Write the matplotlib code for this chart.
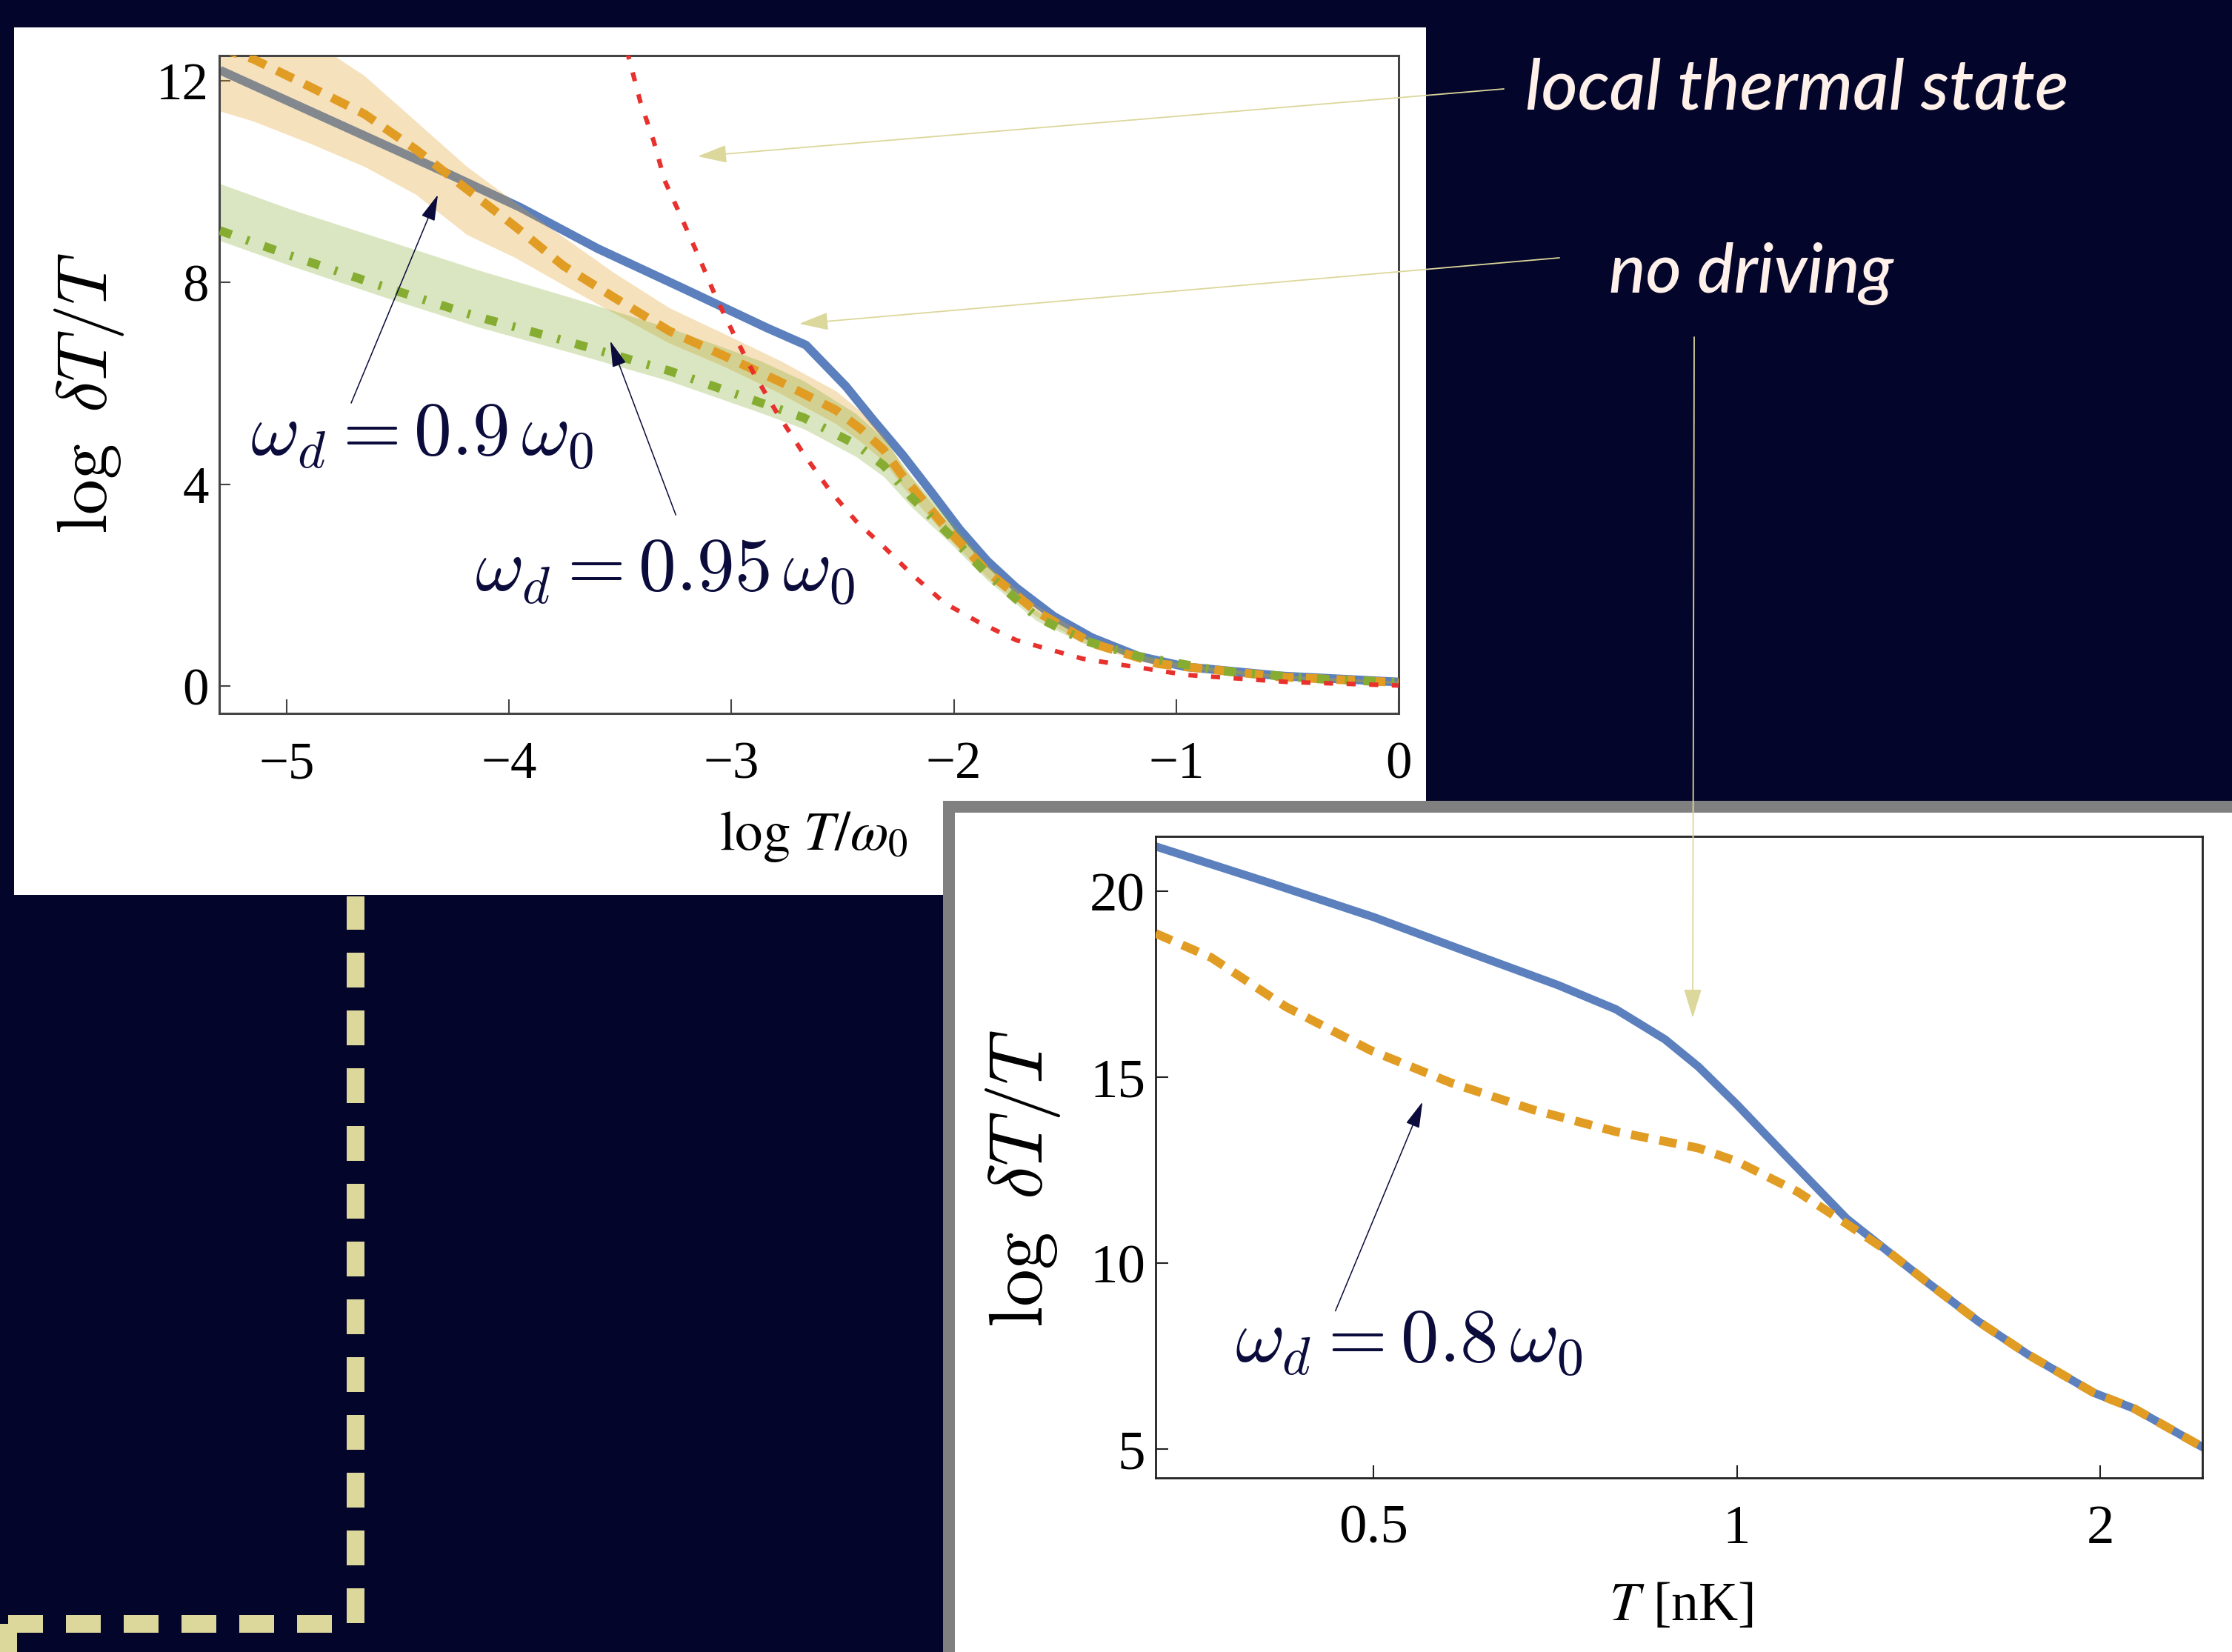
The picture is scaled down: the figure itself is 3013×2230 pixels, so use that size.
import matplotlib
matplotlib.use("Agg")
import matplotlib.pyplot as plt
from matplotlib.patches import Rectangle, FancyArrowPatch
from matplotlib.lines import Line2D
from matplotlib.ticker import NullLocator

plt.rcParams['font.family'] = ['Liberation Serif', 'DejaVu Serif']

# Canvas size and colours
W, H = 3013, 2230
BG = '#04052a'
BEIGE = '#dcd79b'
NAVY = '#0b0c3c'
TXT = '#fff1ea'
BLUE = '#5b80bd'
ORANGE = '#e19c24'
GREEN = '#86ad32'
RED = '#e8302c'

# Top panel: log dT/T vs log T/w0
x_blue = [-5.3, -4.29, -3.95, -3.6, -3.22, -2.84, -2.665, -2.485, -2.36, -2.23, -2.1,
          -1.975, -1.85, -1.72, -1.55, -1.38, -1.17, -0.955, -0.53, 0.0]
y_blue = [12.21, 10.19, 9.49, 8.67, 7.89, 7.10, 6.76, 5.94, 5.26, 4.58, 3.84,
          3.11, 2.48, 1.95, 1.38, 0.96, 0.59, 0.38, 0.20, 0.08]

x_orange = [-5.3, -5.15, -4.89, -4.65, -4.42, -4.19, -3.975, -3.755, -3.53, -3.28, -3.04,
            -2.78, -2.53, -2.42, -2.315, -2.23, -2.04, -1.85, -1.63, -1.38, -1.08, -0.53, 0.0]
y_orange = [12.65, 12.43, 11.87, 11.34, 10.64, 9.85, 9.12, 8.33, 7.71, 7.04, 6.56,
            6.03, 5.47, 5.10, 4.68, 4.16, 3.16, 2.27, 1.48, 0.85, 0.44, 0.18, 0.07]
orange_hi = [13.5, 13.3, 12.8, 12.1, 11.2, 10.3, 9.6, 8.9, 8.2, 7.5, 7.0,
             6.45, 5.85, 5.45, 4.95, 4.35, 3.3, 2.4, 1.6, 0.95, 0.5, 0.22, 0.1]
orange_lo = [11.4, 11.2, 10.75, 10.3, 9.75, 8.95, 8.5, 7.95, 7.4, 6.8, 6.35,
             5.8, 5.2, 4.85, 4.45, 3.95, 3.0, 2.15, 1.38, 0.78, 0.4, 0.15, 0.05]

x_green = [-5.3, -4.98, -4.56, -4.14, -3.72, -3.28, -2.87, -2.675, -2.44, -2.315, -2.19,
           -2.02, -1.85, -1.63, -1.42, -1.17, -0.8, -0.4, 0.0]
y_green = [9.03, 8.53, 7.91, 7.32, 6.81, 6.25, 5.62, 5.32, 4.79, 4.37, 3.74,
           3.00, 2.22, 1.38, 0.91, 0.59, 0.30, 0.15, 0.07]
green_hi = [9.96, 9.45, 8.85, 8.25, 7.7, 7.1, 6.45, 6.05, 5.4, 4.9, 4.15,
            3.3, 2.4, 1.5, 0.98, 0.63, 0.33, 0.17, 0.09]
green_lo = [8.83, 8.33, 7.71, 7.12, 6.61, 6.05, 5.42, 5.10, 4.55, 4.15, 3.55,
            2.85, 2.10, 1.30, 0.85, 0.55, 0.27, 0.13, 0.05]

x_red = [-3.47, -3.41, -3.35, -3.30, -3.22, -3.14, -3.07, -2.99, -2.90, -2.80, -2.675,
         -2.56, -2.44, -2.31, -2.19, -2.04, -1.89, -1.72, -1.42, -0.955, -0.5, 0.0]
y_red = [12.6, 11.59, 10.81, 10.02, 9.24, 8.44, 7.71, 6.98, 6.20, 5.45, 4.60,
         3.89, 3.27, 2.74, 2.22, 1.64, 1.27, 0.91, 0.54, 0.22, 0.08, 0.01]

ticks1_x = [-5, -4, -3, -2, -1, 0]
ticks1_y = [0, 4, 8, 12]

# Bottom panel: log dT/T vs T [nK]
T_blue = [0.33, 0.411, 0.5, 0.608, 0.711, 0.794, 0.872, 0.929, 1.0, 1.104, 1.233,
          1.334, 1.443, 1.586, 1.742, 1.975, 2.135, 2.43]
blue2 = [21.21, 20.22, 19.31, 18.29, 17.48, 16.83, 16.02, 15.29, 14.27, 12.81, 11.20,
         10.32, 9.45, 8.43, 7.55, 6.52, 6.09, 5.06]
T_orange = [0.33, 0.367, 0.423, 0.497, 0.580, 0.678, 0.794, 0.929, 1.0, 1.122, 1.233,
            1.334, 1.443, 1.586, 1.742, 1.975, 2.135, 2.43]
orange2 = [18.87, 18.22, 16.90, 15.73, 14.85, 14.13, 13.54, 13.10, 12.74, 11.93, 11.06,
           10.32, 9.45, 8.43, 7.55, 6.52, 6.09, 5.06]

ticks2_x = [0.5, 1, 2]
ticks2_xlabels = ['0.5', '1', '2']
ticks2_y = [5, 10, 15, 20]


def fx(x):
    return x / W


def fy(y):
    return 1 - y / H


def box(l, t, r, b):
    return [l / W, 1 - b / H, (r - l) / W, (b - t) / H]


fig = plt.figure(figsize=(W / 100, H / 100), dpi=100, facecolor=BG)

# white card of the top plot, grey framed card of the bottom plot
fig.add_artist(Rectangle((fx(19), fy(1208)), (1925 - 19) / W, (1208 - 37) / H,
                         transform=fig.transFigure, facecolor='white', lw=0, zorder=-3))
fig.add_artist(Rectangle((fx(1273), fy(2230)), (W - 1273) / W, (2230 - 1081) / H,
                         transform=fig.transFigure, facecolor='#808080', lw=0, zorder=-2))
fig.add_artist(Rectangle((fx(1289), fy(2230)), (W - 1289) / W, (2230 - 1097) / H,
                         transform=fig.transFigure, facecolor='white', lw=0, zorder=-1))

# dashed beige guide lines bottom-left
lw_d = 24 * 0.72
dash = (47 / 24, 31 / 24)
fig.add_artist(Line2D([fx(480), fx(480)], [fy(2191), fy(1210)], transform=fig.transFigure,
                      color=BEIGE, lw=lw_d, dashes=dash, solid_capstyle='butt', zorder=-2.5))
fig.add_artist(Line2D([fx(448), fx(11)], [fy(2192), fy(2192)], transform=fig.transFigure,
                      color=BEIGE, lw=lw_d, dashes=dash, solid_capstyle='butt', zorder=-2.5))
fig.add_artist(Rectangle((fx(0), fy(2230)), 23 / W, 38 / H, transform=fig.transFigure,
                         facecolor=BEIGE, lw=0, zorder=-2.5))

# ---- top plot ----
ax1 = fig.add_axes(box(296, 75, 1888, 963))
ax1.set_facecolor('white')
ax1.plot(x_blue, y_blue, color=BLUE, lw=8.5, solid_capstyle='butt', solid_joinstyle='round',
         zorder=1.5)
ax1.fill_between(x_orange, orange_lo, orange_hi, color=ORANGE, alpha=0.3, lw=0, zorder=2)
ax1.fill_between(x_green, green_lo, green_hi, color=GREEN, alpha=0.3, lw=0, zorder=2)
ax1.plot(x_orange, y_orange, color=ORANGE, lw=8.5, dashes=(2.1, 1.4), zorder=3)
ax1.plot(x_green, y_green, color=GREEN, lw=8.5, dashes=(1.4, 1.8, 0.33, 1.8), zorder=3.1)
ax1.plot(x_red, y_red, color=RED, lw=4.4, dashes=(2.0, 3.0), zorder=4)
ax1.set_xlim(-5.303, 0.0)
ax1.set_ylim(-0.543, 12.5)
ax1.set_xticks(ticks1_x)
ax1.set_yticks(ticks1_y)
ax1.tick_params(axis='x', direction='in', length=13.7, width=1.5, pad=27, labelsize=51,
                top=False, color='#444444')
ax1.tick_params(axis='y', direction='in', length=10.8, width=1.5, pad=10, labelsize=51,
                right=False, color='#444444')
for s in ax1.spines.values():
    s.set_color('#444444')
    s.set_linewidth(2.2)

ax1.text(-5.163, 4.57, r'$\omega_d = 0.9\,\omega_0$', fontsize=73, color=NAVY,
         math_fontfamily='cm', ha='left', va='baseline', zorder=6)
ax1.text(-4.155, 1.88, r'$\omega_d = 0.95\,\omega_0$', fontsize=73, color=NAVY,
         math_fontfamily='cm', ha='left', va='baseline', zorder=6)
navy_arrow = dict(arrowstyle='-|>,head_length=2.2,head_width=0.6', mutation_scale=10,
                  color=NAVY, lw=1.1, shrinkA=0, shrinkB=0)
ax1.annotate('', xy=(-4.32, 9.74), xytext=(-4.71, 5.61), arrowprops=navy_arrow, zorder=6)
ax1.annotate('', xy=(-3.545, 6.84), xytext=(-3.25, 3.39), arrowprops=navy_arrow, zorder=6)

fig.text(fx(121), fy(531), r'$\log\ \delta T/T$', fontsize=69, math_fontfamily='cm',
         rotation=90, ha='center', va='center', color='black')
fig.text(fx(1098), fy(1130), r'$\log\,T/\omega_0$', fontsize=54, math_fontfamily='stix',
         ha='center', va='center', color='black')

# ---- bottom plot ----
ax2 = fig.add_axes(box(1560, 1129, 2973, 1995))
ax2.set_facecolor('white')
ax2.set_xscale('log')
ax2.plot(T_blue, blue2, color=BLUE, lw=8, solid_joinstyle='round', zorder=2)
ax2.plot(T_orange, orange2, color=ORANGE, lw=8.5, dashes=(2.0, 1.3), zorder=3)
ax2.set_xlim(0.33, 2.43)
ax2.set_ylim(4.23, 21.48)
ax2.set_xticks(ticks2_x)
ax2.set_xticklabels(ticks2_xlabels)
ax2.xaxis.set_minor_locator(NullLocator())
ax2.set_yticks(ticks2_y)
ax2.tick_params(axis='x', direction='in', length=12, width=1.5, pad=26, labelsize=54,
                top=False, color='#222222')
ax2.tick_params(axis='y', direction='in', length=12, width=1.5, pad=10, labelsize=54,
                right=False, color='#222222')
for s in ax2.spines.values():
    s.set_color('#222222')
    s.set_linewidth(2)

ax2.text(0.384, 7.33, r'$\omega_d = 0.8\,\omega_0$', fontsize=74, color=NAVY,
         math_fontfamily='cm', ha='left', va='baseline', zorder=6)
ax2.annotate('', xy=(0.549, 14.34), xytext=(0.465, 8.72), arrowprops=navy_arrow, zorder=6)

fig.text(fx(1381), fy(1591), r'$\log\ \delta T/T$', fontsize=73, math_fontfamily='cm',
         rotation=90, ha='center', va='center', color='black')
fig.text(fx(2269), fy(2169), r'$T$ [nK]', fontsize=53, math_fontfamily='stix',
         ha='center', va='center', color='black')

# ---- callouts on the dark background ----
fig.text(fx(2059), fy(148), 'local thermal state', fontsize=68, color=TXT,
         family='Lato', style='italic', weight='medium', ha='left', va='baseline')
fig.text(fx(2172), fy(395), 'no driving', fontsize=67, color=TXT,
         family='Lato', style='italic', weight='medium', ha='left', va='baseline')

callouts = [((2030, 120), (942, 211)),
            ((2105, 348), (1079, 437)),
            ((2287, 455), (2285, 1374))]
for (x0, y0), (x1, y1) in callouts:
    fig.add_artist(FancyArrowPatch((fx(x0), fy(y0)), (fx(x1), fy(y1)),
                                   transform=fig.transFigure,
                                   arrowstyle='-|>,head_length=2.45,head_width=0.75',
                                   mutation_scale=10, color=BEIGE, lw=1.3,
                                   shrinkA=0, shrinkB=0, zorder=10))

fig.savefig('out.png', dpi=100, facecolor=BG)
